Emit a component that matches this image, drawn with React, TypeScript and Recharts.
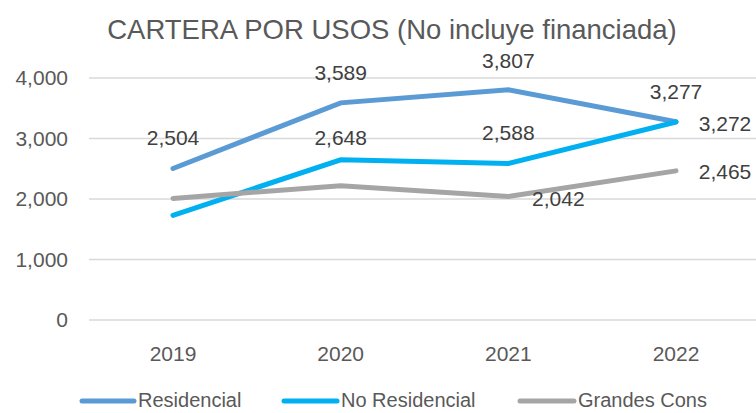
import { LineChart, Line, XAxis, YAxis, CartesianGrid, LabelList } from "recharts";

const years = ["2019", "2020", "2021", "2022"];
const residencial = [2504, 3589, 3807, 3277];
const noResidencial = [1730, 2648, 2588, 3272];
const grandesCons = [2010, 2220, 2042, 2465];
const yTicks = [0, 1000, 2000, 3000, 4000];

const seriesNames = ["Residencial", "No Residencial", "Grandes Cons"];
const title = "CARTERA POR USOS (No incluye financiada)";

const data = years.map((year, i) => ({
  year,
  residencial: residencial[i],
  noResidencial: noResidencial[i],
  grandesCons: grandesCons[i],
}));

const FONT = "'Liberation Sans', Arial, sans-serif";
const colors = ["#5B9BD5", "#00B0F0", "#A5A5A5"];

// label offsets per point (null = no label)
const labelOffsets: Record<string, ([number, number] | null)[]> = {
  residencial: [[0, -31], [0, -30], [0, -29], [0, -30]],
  noResidencial: [null, [0, -22], [0, -31], [49, 1]],
  grandesCons: [null, null, [50, 2], [49, 1]],
};

const makeLabel = (key: string) => (props: any) => {
  const { x, y, value, index } = props;
  const off = labelOffsets[key][index];
  if (!off) return null;
  return (
    <text
      x={x + off[0]}
      y={y + off[1]}
      textAnchor="middle"
      dominantBaseline="central"
      fontSize={21}
      fontFamily={FONT}
      fill="#404040"
    >
      {Number(value).toLocaleString("en-US")}
    </text>
  );
};

const legendItems = [
  { name: seriesNames[0], x1: 82, x2: 134, tx: 138 },
  { name: seriesNames[1], x1: 284, x2: 337, tx: 341 },
  { name: seriesNames[2], x1: 520, x2: 574, tx: 578 },
];

export default function App() {
  return (
    <div
      style={{
        position: "absolute",
        left: 0,
        top: 0,
        width: 756,
        height: 413,
        overflow: "hidden",
        background: "#fff",
      }}
    >
      <LineChart
        width={770}
        height={413}
        data={data}
        margin={{ top: 78, right: 10, left: 0, bottom: 0 }}
      >
        <CartesianGrid vertical={false} stroke="#d9d9d9" strokeWidth={1.5} />
        <XAxis
          dataKey="year"
          height={93}
          axisLine={false}
          tickLine={false}
          tickMargin={20}
          padding={{ left: 84, right: 84 }}
          tick={{ fontSize: 21, fill: "#595959", fontFamily: FONT }}
        />
        <YAxis
          width={89}
          domain={[0, 4000]}
          ticks={yTicks}
          axisLine={false}
          tickLine={false}
          tickMargin={15}
          tickFormatter={(v: number) => v.toLocaleString("en-US")}
          tick={{ fontSize: 21, fill: "#595959", fontFamily: FONT }}
        />
        <Line
          dataKey="residencial"
          stroke={colors[0]}
          strokeWidth={5}
          strokeLinecap="round"
          dot={false}
          isAnimationActive={false}
        >
          <LabelList dataKey="residencial" content={makeLabel("residencial")} />
        </Line>
        <Line
          dataKey="noResidencial"
          stroke={colors[1]}
          strokeWidth={5}
          strokeLinecap="round"
          dot={false}
          isAnimationActive={false}
        >
          <LabelList dataKey="noResidencial" content={makeLabel("noResidencial")} />
        </Line>
        <Line
          dataKey="grandesCons"
          stroke={colors[2]}
          strokeWidth={5}
          strokeLinecap="round"
          dot={false}
          isAnimationActive={false}
        >
          <LabelList dataKey="grandesCons" content={makeLabel("grandesCons")} />
        </Line>
      </LineChart>
      <svg
        width={756}
        height={413}
        style={{ position: "absolute", left: 0, top: 0, pointerEvents: "none" }}
      >
        <text
          x={392}
          y={39}
          textAnchor="middle"
          fontSize={27.5}
          fontFamily={FONT}
          fill="#595959"
        >
          {title}
        </text>
        {legendItems.map((item, i) => (
          <g key={item.name}>
            <line
              x1={item.x1}
              x2={item.x2}
              y1={401}
              y2={401}
              stroke={colors[i]}
              strokeWidth={5}
              strokeLinecap="round"
            />
            <text
              x={item.tx}
              y={400}
              dominantBaseline="central"
              fontSize={20}
              fontFamily={FONT}
              fill="#595959"
            >
              {item.name}
            </text>
          </g>
        ))}
      </svg>
    </div>
  );
}
